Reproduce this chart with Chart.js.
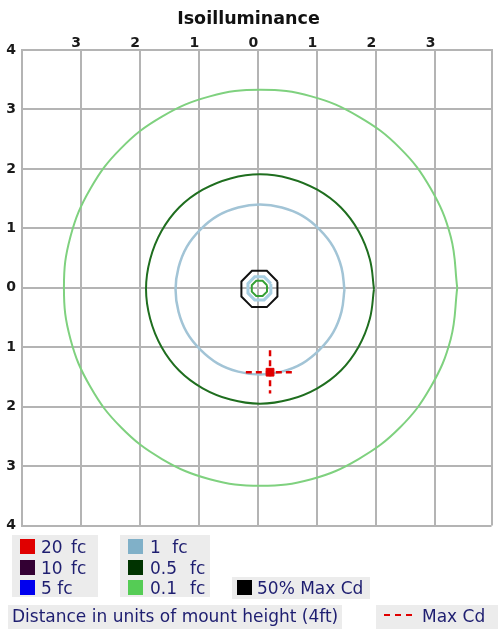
<!DOCTYPE html>
<html><head><meta charset="utf-8">
<script src="https://cdn.jsdelivr.net/npm/chart.js@4.4.0/dist/chart.umd.min.js"></script>
<style>
html,body{margin:0;padding:0;background:#fff;width:498px;height:630px;overflow:hidden;}
#wrap{position:absolute;left:0;top:0;width:498px;height:540px;}
.lg{position:absolute;font-family:"DejaVu Sans";font-size:17px;color:#1e1e70;line-height:20px;white-space:pre;}
.bg{position:absolute;background:#ececec;}
.sw{position:absolute;width:15px;height:15px;box-sizing:border-box;}
</style></head><body>
<div id="wrap"><canvas id="c"></canvas></div>
<div id="legend"></div>
<script>
// ---- data ----
const xTickValues = [-4, -3, -2, -1, 0, 1, 2, 3, 3.95];
const xTickLabels = ['', '3', '2', '1', '0', '1', '2', '3', ''];
const yTickValues = [-4, -3, -2, -1, 0, 1, 2, 3, 4];
const yTickLabels = ['4', '3', '2', '1', '0', '1', '2', '3', '4'];

// 0.1 fc contour
const contour01 = [[3.37,0],[3.26,0.86],[2.92,1.67],[2.40,2.35],[1.70,2.88],[0.90,3.22],[0.04,3.33],
  [-0.82,3.22],[-1.63,2.88],[-2.32,2.35],[-2.84,1.67],[-3.18,0.86],[-3.29,0],[-3.18,-0.86],
  [-2.84,-1.67],[-2.32,-2.35],[-1.63,-2.88],[-0.82,-3.22],[0.04,-3.33],[0.90,-3.22],[1.70,-2.88],
  [2.40,-2.35],[2.92,-1.67],[3.26,-0.86],[3.37,0]];
// 0.5 fc contour
const contour05 = [[1.96,-0.02],[1.89,0.48],[1.70,0.95],[1.40,1.35],[1.00,1.65],[0.53,1.84],[0.03,1.91],
  [-0.47,1.84],[-0.94,1.65],[-1.34,1.35],[-1.64,0.95],[-1.83,0.48],[-1.90,-0.02],[-1.83,-0.52],
  [-1.64,-0.99],[-1.34,-1.39],[-0.94,-1.69],[-0.47,-1.88],[0.03,-1.95],[0.53,-1.88],[1.00,-1.69],
  [1.40,-1.39],[1.70,-0.99],[1.89,-0.52],[1.96,-0.02]];
// 1 fc contour
const contour1 = [[1.46,-0.03],[1.41,0.34],[1.27,0.69],[1.04,0.98],[0.75,1.21],[0.40,1.35],[0.03,1.40],
  [-0.34,1.35],[-0.69,1.21],[-0.98,0.98],[-1.21,0.69],[-1.35,0.34],[-1.40,-0.03],[-1.35,-0.40],
  [-1.21,-0.75],[-0.98,-1.04],[-0.69,-1.27],[-0.34,-1.41],[0.03,-1.46],[0.40,-1.41],[0.75,-1.27],
  [1.04,-1.04],[1.27,-0.75],[1.41,-0.40],[1.46,-0.03]];
// small inner contours near the fixture
const core1 = [[0.214,0.070],[0.100,0.184],[-0.060,0.184],[-0.174,0.070],[-0.174,-0.090],
  [-0.060,-0.204],[0.100,-0.204],[0.214,-0.090],[0.214,0.070]];
const core01 = [[0.149,0.044],[0.074,0.119],[-0.034,0.119],[-0.109,0.044],[-0.109,-0.064],
  [-0.034,-0.139],[0.074,-0.139],[0.149,-0.064],[0.149,0.044]];
// 50% max candela outline
const halfMaxCd = [[0.325,0.106],[0.146,0.285],[-0.106,0.285],[-0.285,0.106],[-0.285,-0.146],
  [-0.106,-0.325],[0.146,-0.325],[0.325,-0.146],[0.325,0.106]];
// Max Cd marker
const maxCd = [0.2, -1.42];
const maxCdH = [[-0.21,-1.42],[0.61,-1.42]];
const maxCdV = [[0.2,-1.05],[0.2,-1.78]];

const legendLabels = ['20 fc','10 fc','5 fc','1 fc','0.5 fc','0.1 fc','50% Max Cd'];
const legendColors = ['#e00000','#330033','#0000ee','#80b0c8','#003300','#55cc55','#000000'];
const axisNote = 'Distance in units of mount height (4ft)';
const maxCdLabel = 'Max Cd';

// ---- chart ----
const pts = a => a.map(p => ({x: p[0], y: p[1]}));
const line = (label, arr, color, width, tension) => ({
  label, data: pts(arr), borderColor: color, borderWidth: width, tension,
  showLine: true, pointRadius: 0, fill: false
});
// listed bottom -> top
const drawOrder = [
  line('0.1 fc', contour01, '#7fd17f', 2, 0.4),
  line('0.5 fc', contour05, '#1f6e1f', 2, 0.4),
  line('1 fc', contour1, '#a2c4d6', 2.5, 0.4),
  line('1 fc inner', core1, '#a8cfe2', 3, 0),
  line('50% Max Cd', halfMaxCd, '#111111', 2, 0),
  line('0.1 fc inner', core01, '#35a035', 2, 0),
  Object.assign(line('Max Cd h', maxCdH, '#e00000', 2.5, 0), {borderDash: [6, 4]}),
  Object.assign(line('Max Cd v', maxCdV, '#e00000', 2.5, 0), {borderDash: [6, 4]}),
  {label: 'Max Cd', data: [{x: maxCd[0], y: maxCd[1]}], showLine: false,
   pointStyle: 'rect', pointRadius: 5.5, backgroundColor: '#e00000', borderColor: '#e00000', borderWidth: 1}
];
// Chart.js paints the first dataset on top, so hand them over reversed
const datasets = drawOrder.slice().reverse();

const gridColor = '#b4b4b4';
const tickFont = {family: 'DejaVu Sans', weight: 'bold', size: 14};

new Chart(document.getElementById('c'), {
  type: 'scatter',
  data: {datasets},
  options: {
    responsive: true, maintainAspectRatio: false, animation: false,
    layout: {padding: {left: 0, right: 1, top: 0, bottom: 12}},
    plugins: {
      legend: {display: false}, tooltip: {enabled: false},
      title: {display: true, text: 'Isoilluminance', color: '#111',
        font: {family: 'DejaVu Sans', weight: 'bold', size: 17.5}, padding: {top: 9, bottom: 0}}
    },
    scales: {
      x: {
        type: 'linear', position: 'top', min: -4, max: 3.95,
        afterBuildTicks: s => { s.ticks = xTickValues.map(v => ({value: v})); },
        afterFit: s => { s.height = 20; },
        ticks: {font: tickFont, color: '#1a1a1a', padding: -2, align: 'end', maxRotation: 0, autoSkip: false,
          callback: (v, i) => xTickLabels[i]},
        grid: {color: gridColor, lineWidth: 2, drawTicks: false},
        border: {color: gridColor, width: 2}
      },
      y: {
        type: 'linear', min: -4, max: 4,
        afterBuildTicks: s => { s.ticks = yTickValues.map(v => ({value: v})); },
        afterFit: s => { s.width = 22; },
        ticks: {font: tickFont, color: '#1a1a1a', padding: 6, autoSkip: false,
          callback: (v, i) => yTickLabels[i]},
        grid: {color: gridColor, lineWidth: 2, drawTicks: false},
        border: {color: gridColor, width: 2}
      }
    }
  }
});

// ---- legend (HTML) ----
const lg = document.getElementById('legend');
// layout: [swatchX, swatchY, textX, textCenterY, wordSpacing]
const legendLayout = [
  [20,539,41,547,3],[20,560,41,568,3],[20,580,41,588,0],
  [128,539,150,547,6],[128,560,150,568,7.5],[128,580,150,588,7.5],
  [237,580,257,588,0]
];
const bgBoxes = [[12,535,86,62],[120,535,90,62],[232,577,138,22],[8,605,334,24],[376,605,122,24]];
bgBoxes.forEach(b => {
  const d = document.createElement('div'); d.className = 'bg';
  d.style.cssText = `left:${b[0]}px;top:${b[1]}px;width:${b[2]}px;height:${b[3]}px;`;
  lg.appendChild(d);
});
legendLabels.forEach((lab, i) => {
  const L = legendLayout[i];
  const sw = document.createElement('div'); sw.className = 'sw';
  sw.style.cssText = `left:${L[0]}px;top:${L[1]}px;background:${legendColors[i]};`;
  lg.appendChild(sw);
  const t = document.createElement('div'); t.className = 'lg';
  t.textContent = lab;
  t.style.cssText = `left:${L[2]}px;top:${L[3]-10}px;word-spacing:${L[4]}px;`;
  lg.appendChild(t);
});
const note = document.createElement('div'); note.className = 'lg';
note.textContent = axisNote; note.style.cssText = 'left:12px;top:606px;';
lg.appendChild(note);
const dash = document.createElement('div');
dash.style.cssText = 'position:absolute;left:384px;top:614px;width:28px;height:0;border-top:2px dashed #e00000;';
lg.appendChild(dash);
const mc = document.createElement('div'); mc.className = 'lg';
mc.textContent = maxCdLabel; mc.style.cssText = 'left:422px;top:606px;';
lg.appendChild(mc);
</script>
</body></html>
